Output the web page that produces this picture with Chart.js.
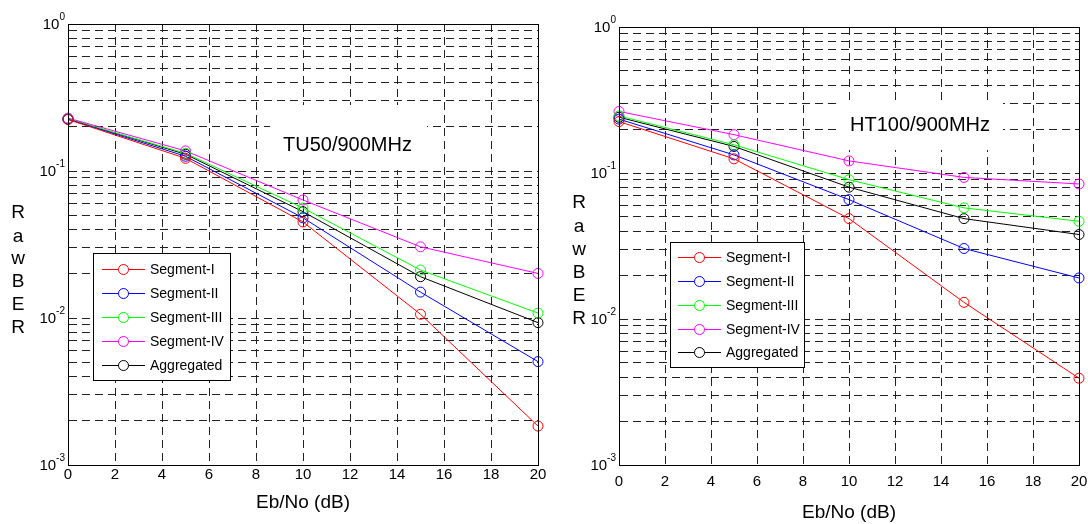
<!DOCTYPE html>
<html>
<head>
<meta charset="utf-8">
<script src="https://cdn.jsdelivr.net/npm/chart.js@4.4.0/dist/chart.umd.min.js"></script>
<style>
  body { margin: 0; background: #fff; width: 1088px; height: 524px; overflow: hidden; }
  canvas { position: absolute; top: 0; }
  #tuChart { left: 0; }
  #htChart { left: 544px; }
</style>
</head>
<body>
<canvas id="htChart" width="544" height="524"></canvas>
<canvas id="tuChart" width="560" height="524"></canvas>
<script>
// --- Data ---
const ebno = [0, 5, 10, 15, 20];
const seriesNames = ['Segment-I', 'Segment-II', 'Segment-III', 'Segment-IV', 'Aggregated'];
const seriesColors = ['#ff0000', '#0000ff', '#00ff00', '#ff00ff', '#000000'];
const yDecades = [1e-3, 1e-2, 1e-1, 1];
const yMinorSteps = [1, 2, 3, 4, 5, 6, 7, 8, 9];

// TU50 / 900MHz
const tuSeg1 = [0.224, 0.122, 0.045, 0.0106, 0.00184];
const tuSeg2 = [0.225, 0.126, 0.048, 0.0150, 0.00505];
const tuSeg3 = [0.226, 0.132, 0.056, 0.0212, 0.0108];
const tuSeg4 = [0.229, 0.137, 0.0635, 0.0305, 0.0201];
const tuAgg  = [0.226, 0.130, 0.0529, 0.0191, 0.0093];

// HT100 / 900MHz
const htSeg1 = [0.225, 0.125, 0.0487, 0.0130, 0.00393];
const htSeg2 = [0.234, 0.133, 0.0657, 0.0304, 0.0191];
const htSeg3 = [0.246, 0.156, 0.090, 0.0577, 0.0467];
const htSeg4 = [0.264, 0.183, 0.121, 0.0933, 0.0841];
const htAgg  = [0.241, 0.152, 0.080, 0.0487, 0.0379];

const FONT = "'Liberation Sans', Arial, Helvetica, sans-serif";

// --- Panel layout (canvas-local pixels) ---
const tuPanel = {
  width: 560, left: 68, right: 538, top: 24, bottom: 465,
  xTickPad: 1, titlePad: 10,
  note: 'TU50/900MHz', noteBox: [270, 105, 157, 65], noteX: 283, noteY: 145,
  letterX: 18, letterY: [213, 237, 259, 282, 305, 328],
  legendBox: [93, 253, 137, 127], legendY: [269, 293, 317, 341, 365], legendLine: [102, 145], legendText: 150
};
const htPanel = {
  width: 544, left: 75, right: 535, top: 27, bottom: 465,
  xTickPad: 8, titlePad: 0,
  note: 'HT100/900MHz', noteBox: [294, 100, 165, 50], noteX: 306, noteY: 125,
  letterX: 35, letterY: [203, 227, 250, 273, 296, 319],
  legendBox: [126, 242, 134, 125], legendY: [257, 281, 305, 329, 352], legendLine: [134, 177], legendText: 182
};

function decorPlugin(p) {
  return {
    id: 'decor',
    beforeDatasetsDraw(chart) {
      const ctx = chart.ctx;
      ctx.save();
      ctx.fillStyle = '#fff';
      ctx.fillRect(p.noteBox[0], p.noteBox[1], p.noteBox[2], p.noteBox[3]);
      ctx.fillStyle = '#000';
      ctx.font = '20px ' + FONT;
      ctx.textAlign = 'left';
      ctx.textBaseline = 'middle';
      ctx.fillText(p.note, p.noteX, p.noteY);
      ctx.restore();
    },
    afterDraw(chart) {
      const ctx = chart.ctx;
      const a = chart.chartArea;
      const ys = chart.scales.y;
      ctx.save();
      // box
      ctx.strokeStyle = '#000';
      ctx.lineWidth = 1;
      ctx.setLineDash([]);
      ctx.strokeRect(Math.round(a.left) + 0.5, Math.round(a.top) + 0.5,
        Math.round(a.right - a.left), Math.round(a.bottom - a.top));

      // y tick labels 10^n
      ctx.fillStyle = '#000';
      ctx.textBaseline = 'middle';
      yDecades.forEach(v => {
        const y = ys.getPixelForValue(v);
        const exp = String(Math.round(Math.log10(v)));
        ctx.font = '10px ' + FONT;
        const ew = ctx.measureText(exp).width;
        ctx.textAlign = 'left';
        ctx.fillText(exp, a.left - 3 - ew, y - 7);
        ctx.font = '15px ' + FONT;
        ctx.textAlign = 'right';
        ctx.fillText('10', a.left - 3 - ew, y + 1);
      });

      // y axis title, stacked letters
      ctx.font = '19px ' + FONT;
      ctx.textAlign = 'center';
      'RawBER'.split('').forEach((ch, i) => ctx.fillText(ch, p.letterX, p.letterY[i]));

      // legend
      const [bx, by, bw, bh] = p.legendBox;
      ctx.fillStyle = '#fff';
      ctx.fillRect(bx, by, bw, bh);
      ctx.strokeStyle = '#000';
      ctx.strokeRect(bx + 0.5, by + 0.5, bw, bh);
      ctx.font = '14px ' + FONT;
      ctx.textAlign = 'left';
      chart.data.datasets.forEach((ds, i) => {
        const y = p.legendY[i];
        ctx.strokeStyle = ds.borderColor;
        ctx.beginPath();
        ctx.moveTo(p.legendLine[0], y + 0.5);
        ctx.lineTo(p.legendLine[1], y + 0.5);
        ctx.stroke();
        ctx.beginPath();
        ctx.arc((p.legendLine[0] + p.legendLine[1]) / 2, y + 0.5, 5, 0, Math.PI * 2);
        ctx.fillStyle = '#fff';
        ctx.fill();
        ctx.stroke();
        ctx.fillStyle = '#000';
        ctx.fillText(ds.label, p.legendText, y + 1);
      });
      ctx.restore();
    }
  };
}

function makeChart(id, series, p) {
  const ctx = document.getElementById(id).getContext('2d');
  return new Chart(ctx, {
    type: 'line',
    data: {
      datasets: series.map((vals, i) => ({
        label: seriesNames[i],
        data: ebno.map((x, j) => ({ x: x, y: vals[j] })),
        borderColor: seriesColors[i],
        borderWidth: 1,
        pointRadius: 5,
        pointHoverRadius: 5,
        pointBorderWidth: 1,
        pointBorderColor: seriesColors[i],
        pointBackgroundColor: 'rgba(0,0,0,0)',
        fill: false,
        tension: 0,
        clip: false
      }))
    },
    options: {
      responsive: false,
      animation: false,
      devicePixelRatio: 1,
      layout: { padding: { left: 0, right: p.width - p.right, top: p.top, bottom: 0 } },
      plugins: { legend: { display: false }, tooltip: { enabled: false } },
      scales: {
        x: {
          type: 'linear', min: 0, max: 20,
          ticks: { stepSize: 2, color: '#000', font: { family: FONT, size: 15 }, padding: p.xTickPad, maxRotation: 0, autoSkip: false },
          grid: { color: '#222', lineWidth: 1, drawTicks: false },
          border: { color: '#000', dash: [8, 5] },
          title: { display: true, text: 'Eb/No (dB)', color: '#000', font: { family: FONT, size: 19 }, padding: { top: 0, bottom: p.titlePad } },
          afterFit(s) {
            s.height = 524 - p.bottom;
            s.paddingLeft = 0;
            s.paddingRight = 0;
          }
        },
        y: {
          type: 'logarithmic', min: 1e-3, max: 1,
          ticks: { display: false },
          grid: { color: '#222', lineWidth: 1, drawTicks: false },
          border: { color: '#000', dash: [8, 5] },
          afterBuildTicks(s) {
            const t = [];
            yDecades.slice(0, -1).forEach(d => yMinorSteps.forEach(m => t.push({ value: d * m })));
            t.push({ value: yDecades[yDecades.length - 1] });
            s.ticks = t;
          },
          afterFit(s) {
            s.width = p.left;
            s.paddingTop = 0;
            s.paddingBottom = 0;
          }
        }
      }
    },
    plugins: [decorPlugin(p)]
  });
}

makeChart('tuChart', [tuSeg1, tuSeg2, tuSeg3, tuSeg4, tuAgg], tuPanel);
makeChart('htChart', [htSeg1, htSeg2, htSeg3, htSeg4, htAgg], htPanel);
</script>
</body>
</html>
